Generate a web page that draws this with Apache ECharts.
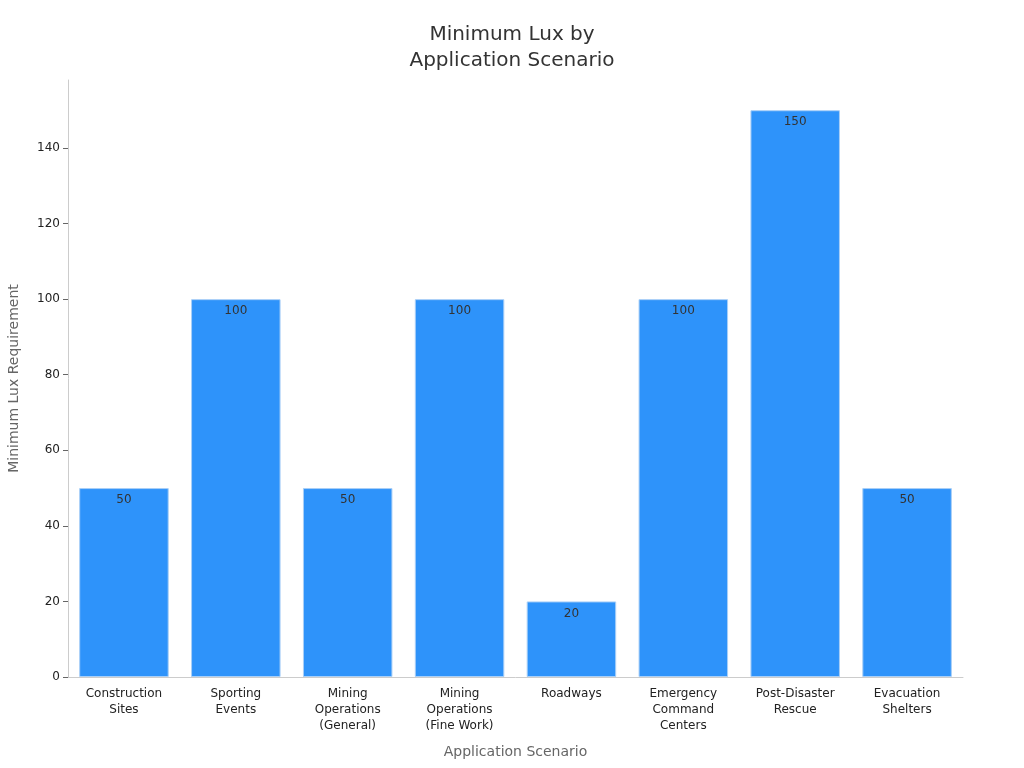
<!DOCTYPE html>
<html lang="en" style="height: 100%">
<head>
    <meta charset="utf-8">
    <script src="https://cdn.jsdelivr.net/npm/echarts@6/dist/echarts.min.js"></script>
</head>
<body style="height: 100%; margin: 0">
<div id="main" style="width: 1024px; height: 768px"></div>
<script type="text/javascript">
    // categories and values
    var scenarios = ['Construction\nSites', 'Sporting\nEvents', 'Mining\nOperations\n(General)',
        'Mining\nOperations\n(Fine Work)', 'Roadways', 'Emergency\nCommand\nCenters',
        'Post-Disaster\nRescue', 'Evacuation\nShelters'];
    var minLux = [50, 100, 50, 100, 20, 100, 150, 50];
    var yTicks = [0, 20, 40, 60, 80, 100, 120, 140];

    var font = 'DejaVu Sans';
    var chart = echarts.init(document.getElementById('main'));

    chart.setOption({
        animation: false,
        textStyle: {fontFamily: font},
        title: {
            text: 'Minimum Lux by\nApplication Scenario',
            left: 'center',
            top: 17,
            textStyle: {fontFamily: font, fontSize: 20, fontWeight: 'normal', color: '#333', lineHeight: 26}
        },
        grid: {left: 68, right: 61, top: 80, bottom: 91, containLabel: false, outerBoundsMode: 'none'},
        xAxis: {
            type: 'category',
            data: scenarios,
            name: 'Application Scenario',
            nameLocation: 'middle',
            nameGap: 68,
            nameTextStyle: {fontFamily: font, fontSize: 14, color: '#666'},
            axisLine: {lineStyle: {color: '#ccc'}},
            axisTick: {alignWithLabel: true, length: 5, lineStyle: {color: '#666'}},
            axisLabel: {fontFamily: font, fontSize: 12, color: '#222', lineHeight: 16, margin: 9, interval: 0}
        },
        yAxis: {
            type: 'value',
            min: 0,
            max: 158,
            interval: 20,
            name: 'Minimum Lux Requirement',
            nameLocation: 'middle',
            nameGap: 47,
            nameTextStyle: {fontFamily: font, fontSize: 14, color: '#666'},
            axisLine: {show: true, lineStyle: {color: '#ccc'}},
            axisTick: {show: true, length: 5, lineStyle: {color: '#666'}, customValues: yTicks},
            splitLine: {show: false},
            axisLabel: {
                fontFamily: font, fontSize: 12, color: '#222', margin: 8,
                customValues: yTicks
            }
        },
        series: [{
            type: 'bar',
            data: minLux,
            barCategoryGap: '20%',
            itemStyle: {color: '#2e93fa', borderColor: '#a9cff7', borderWidth: 1},
            label: {
                show: true,
                position: 'insideTop',
                distance: 6,
                fontFamily: font,
                fontSize: 12,
                color: '#333'
            }
        }]
    });
</script>
</body>
</html>
